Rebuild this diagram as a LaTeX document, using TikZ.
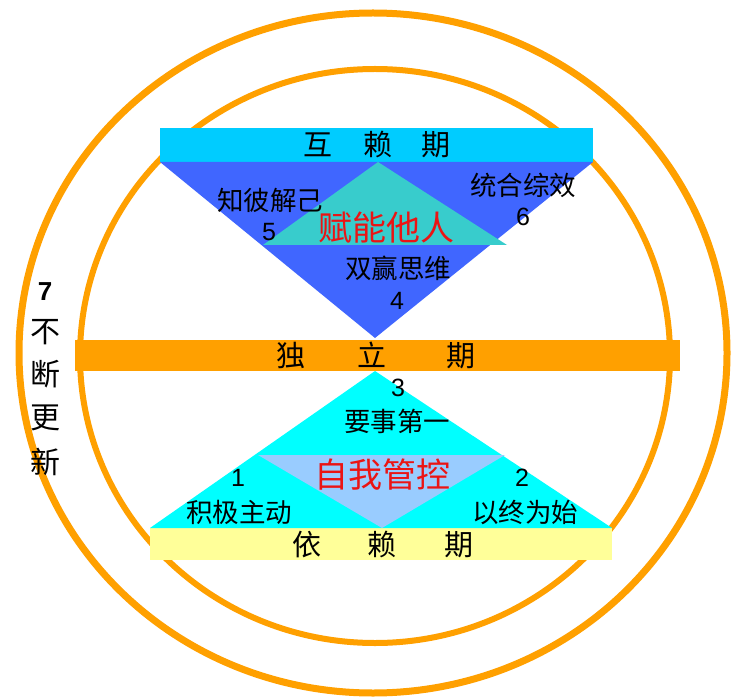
\documentclass[tikz,border=0pt]{standalone}
\usepackage{fontspec}
\setmainfont{Liberation Sans}
\newfontfamily\cjk{Noto Sans CJK SC}
\definecolor{ring}{RGB}{255,160,0}
\definecolor{topbar}{RGB}{0,204,255}
\definecolor{bluetri}{RGB}{64,102,255}
\definecolor{tealtri}{RGB}{56,204,204}
\definecolor{cyantri}{RGB}{0,255,255}
\definecolor{lightblue}{RGB}{153,204,255}
\definecolor{yellowbar}{RGB}{255,255,153}
\definecolor{redtxt}{RGB}{235,20,20}
\begin{document}
\begin{tikzpicture}[x=1pt,y=-1pt,
  lbl/.style={font=\cjk\fontsize{26.5}{26.5}\selectfont,inner sep=0pt},
  num/.style={font=\fontsize{25}{25}\selectfont,inner sep=0pt},
  ttl/.style={font=\cjk\fontsize{29}{29}\selectfont,inner sep=0pt},
  red/.style={font=\cjk\fontsize{34}{34}\selectfont,text=redtxt,inner sep=0pt},
  side/.style={font=\cjk\fontsize{30}{30}\selectfont,inner sep=0pt}]
\useasboundingbox (0,0) rectangle (735,700);
\fill[white] (0,0) rectangle (735,700);
% rings
\draw[ring,line width=7pt] (373,353) ellipse [x radius=354,y radius=340];
\draw[ring,line width=6pt] (375,356) ellipse [x radius=295,y radius=287];
% bars
\fill[ring] (75,340) rectangle (680,371);
\fill[topbar] (160,128) rectangle (593,162);
\fill[yellowbar] (150,528) rectangle (612,560);
% upper triangles
\fill[bluetri] (160,162) -- (593,162) -- (375,338) -- cycle;
\fill[tealtri] (378,162) -- (507,245) -- (263,245) -- cycle;
% lower triangles
\fill[cyantri] (375,371) -- (612,528) -- (150,528) -- cycle;
\fill[lightblue] (258,455) -- (505,455) -- (382,528) -- cycle;
% titles
\node[ttl] (t1) at (377,145) {互\hspace{31pt}赖\hspace{29pt}期};
\node[ttl] (t2) at (376,355) {独\hspace{52pt}立\hspace{60pt}期};
\node[ttl] (t3) at (383,545) {依\hspace{46pt}赖\hspace{48pt}期};
% upper labels
\node[lbl] (a5) at (270,200) {知彼解己};
\node[num] (n5) at (269,232) {5};
\node[lbl] (a6) at (523,185) {统合综效};
\node[num] (n6) at (523,217) {6};
\node[lbl] (a4) at (398,268) {双赢思维};
\node[num] (n4) at (397,301) {4};
\node[red] (r1) at (386,228) {赋能他人};
% lower labels
\node[num] (n3) at (398,388) {3};
\node[lbl] (a3) at (397,421) {要事第一};
\node[num] (n1) at (238,478) {1};
\node[lbl] (a1) at (239,512) {积极主动};
\node[num] (n2) at (522,478) {2};
\node[lbl] (a2) at (525,512) {以终为始};
\node[red] (r2) at (382,475) {自我管控};
% side
\node[font=\bfseries\fontsize{26}{26}\selectfont,inner sep=0pt] (s7) at (45,292) {7};
\node[side] (s1) at (45,332) {不};
\node[side] (s2) at (45,374) {断};
\node[side] (s3) at (45,418) {更};
\node[side] (s4) at (45,462) {新};
\end{tikzpicture}
\end{document}
